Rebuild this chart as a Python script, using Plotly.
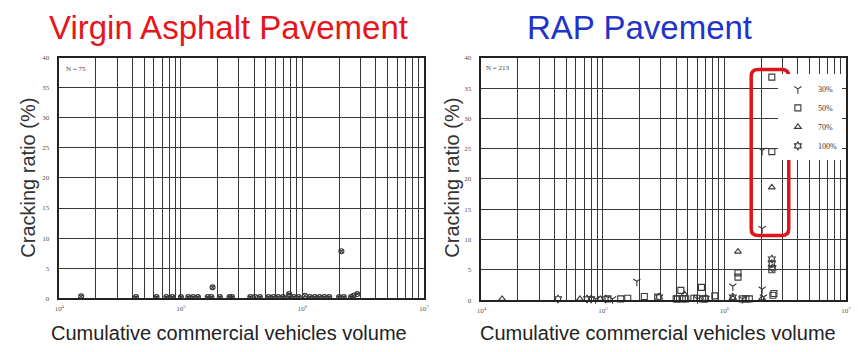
import plotly.graph_objects as go

W, H = 858, 352

# ---------------- data ----------------
# Virgin asphalt pavement (N = 75)
virgin_x = [15100, 42700, 63000, 75900, 85100, 100000, 115000, 126000, 138000,
            166000, 178000, 182000, 209000, 251000, 263000, 372000, 407000, 447000,
            525000, 575000, 631000, 692000, 776000, 776000, 851000, 933000,
            1050000, 1150000, 1260000, 1380000, 1510000, 1660000, 2000000,
            2090000, 2190000, 2510000, 2630000, 2820000]
virgin_y = [0.3, 0.2, 0.2, 0.2, 0.2, 0.2, 0.2, 0.2, 0.2,
            0.2, 0.2, 1.8, 0.2, 0.2, 0.2, 0.2, 0.2, 0.2,
            0.2, 0.2, 0.2, 0.2, 0.7, 0.2, 0.2, 0.2,
            0.4, 0.2, 0.2, 0.2, 0.2, 0.2, 0.2,
            7.8, 0.2, 0.2, 0.4, 0.7]

# RAP pavement (N = 213), by RAP content
rap30_x = [190000, 1170000, 2040000, 2040000, 2040000, 2090000, 87000, 120000, 600000, 1400000]
rap30_y = [3.1, 2.3, 24.7, 11.8, 1.8, 0.5, 0.2, 0.2, 0.2, 0.2]

rap50_x = [2450000, 2450000, 1290000, 1290000, 437000, 646000, 832000, 2450000,
           2500000, 2550000, 219000, 282000, 400000, 410000, 450000, 480000,
           560000, 590000, 660000, 690000, 1400000, 1500000, 1600000, 110000,
           140000, 160000]
rap50_y = [36.8, 24.5, 4.5, 3.8, 1.6, 2.1, 0.7, 5.0,
           0.8, 1.1, 0.6, 0.5, 0.2, 0.2, 0.2, 0.2,
           0.3, 0.3, 0.2, 0.2, 0.2, 0.2, 0.2, 0.2,
           0.2, 0.3]

rap70_x = [2450000, 1290000, 468000, 14800, 64600, 2040000, 1170000, 95000]
rap70_y = [18.6, 8.0, 1.0, 0.2, 0.2, 0.3, 0.3, 0.2]

rap100_x = [42700, 2450000, 2450000, 2480000, 1170000, 74000, 80000, 105000, 290000, 700000]
rap100_y = [0.2, 6.8, 6.0, 5.3, 0.5, 0.2, 0.2, 0.2, 0.5, 0.3]

y_ticks = [0, 5, 10, 15, 20, 25, 30, 35, 40]
decades = [4, 5, 6, 7]

# ---------------- figure ----------------
fig = go.Figure()

mk_col = "#3a3a3a"
fig.add_trace(go.Scatter(x=virgin_x, y=virgin_y, mode="markers", showlegend=False,
                         cliponaxis=False,
                         marker=dict(symbol="circle-x-open", size=5, color=mk_col,
                                     line=dict(width=1.1, color=mk_col)),
                         xaxis="x", yaxis="y"))

series = [("30%", rap30_x, rap30_y, "y-down-open"),
          ("50%", rap50_x, rap50_y, "square-open"),
          ("70%", rap70_x, rap70_y, "triangle-up-open"),
          ("100%", rap100_x, rap100_y, "hexagram-open")]
for name, xs, ys, sym in series:
    fig.add_trace(go.Scatter(x=xs, y=ys, mode="markers", name=name, cliponaxis=False,
                             marker=dict(symbol=sym, size=6, color=mk_col,
                                         line=dict(width=1.1, color=mk_col)),
                             xaxis="x2", yaxis="y2"))

# log-grid ticks: labelled decades + minor grid at 2..9
major_vals = [10 ** e for e in decades]
major_text = [f"10<sup>{e}</sup>" for e in decades]
minor_vals = [k * 10 ** e for e in decades[:-1] for k in range(2, 10)]

grid_col = "#383838"
tick_font = dict(family="Liberation Serif", size=7, color="#555555")

def xax(domain, anchor):
    return dict(type="log", range=[4, 7], domain=domain, anchor=anchor,
                tickmode="array", tickvals=major_vals, ticktext=major_text,
                showgrid=True, gridcolor=grid_col, gridwidth=1.4,
                minor=dict(tickmode="array", tickvals=minor_vals, showgrid=True,
                           gridcolor=grid_col, gridwidth=1.4, ticks=""),
                showline=True, linecolor="#222", linewidth=1.6, mirror=True,
                ticks="", ticklabelstandoff=3, tickfont=tick_font, zeroline=False)

def yax(domain, anchor):
    return dict(range=[0, 40], domain=domain, anchor=anchor,
                tickmode="array", tickvals=y_ticks,
                showgrid=True, gridcolor=grid_col, gridwidth=1.4,
                showline=True, linecolor="#222", linewidth=1.6, mirror=True,
                ticks="", ticklabelstandoff=7, tickfont=tick_font, zeroline=False)

fig.update_layout(
    width=W, height=H,
    margin=dict(l=0, r=0, t=0, b=0),
    paper_bgcolor="white", plot_bgcolor="white",
    xaxis=xax([55 / W, 424 / W], "y"),
    yaxis=yax([1 - 301 / H, 1 - 55 / H], "x"),
    xaxis2=xax([482 / W, 851 / W], "y2"),
    yaxis2=yax([1 - 303 / H, 1 - 55 / H], "x2"),
    legend=dict(x=782 / W, y=1 - 72 / H, xanchor="left", yanchor="top",
                bgcolor="white", borderwidth=0, itemwidth=30, tracegroupgap=0,
                font=dict(family="Liberation Serif", size=8, color="#333333")),
    showlegend=True,
)

def ann(text, x, y, size, color, family="Liberation Sans, Arial", angle=0, xanchor="center"):
    fig.add_annotation(text=text, x=x / W, y=1 - y / H, xref="paper", yref="paper",
                       showarrow=False, textangle=angle, xanchor=xanchor, yanchor="middle",
                       font=dict(family=family, size=size, color=color))

ann("Virgin Asphalt Pavement", 226, 24, 33, "#e8141c")
ann("RAP Pavement", 642, 24, 33, "#2233cc")
ann("Cracking ratio (%)", 23, 178, 20, "#333333", angle=-90)
ann("Cracking ratio (%)", 452, 178, 20, "#333333", angle=-90)
ann("Cumulative commercial vehicles volume", 227, 337, 20, "#222222")
ann("Cumulative commercial vehicles volume", 661, 337, 20, "#222222")
ann("N = 75", 60, 67, 7, "#444444", family="Liberation Serif", xanchor="left")
ann("N = 213", 485, 65, 7, "#444444", family="Liberation Serif", xanchor="left")

# red rounded highlight box
x0, x1, y0, y1, r = 755, 793, 67, 237, 7
def P(px, py):
    return f"{px / W:.5f},{1 - py / H:.5f}"
path = (f"M {P(x0 + r, y0)} L {P(x1 - r, y0)} Q {P(x1, y0)} {P(x1, y0 + r)} "
        f"L {P(x1, y1 - r)} Q {P(x1, y1)} {P(x1 - r, y1)} "
        f"L {P(x0 + r, y1)} Q {P(x0, y1)} {P(x0, y1 - r)} "
        f"L {P(x0, y0 + r)} Q {P(x0, y0)} {P(x0 + r, y0)} Z")
fig.add_shape(type="path", path=path, xref="paper", yref="paper",
              line=dict(color="#e0141c", width=3.5))

fig.write_html("out.html", config={"displayModeBar": False},
               post_script="document.body.style.margin='0';")
